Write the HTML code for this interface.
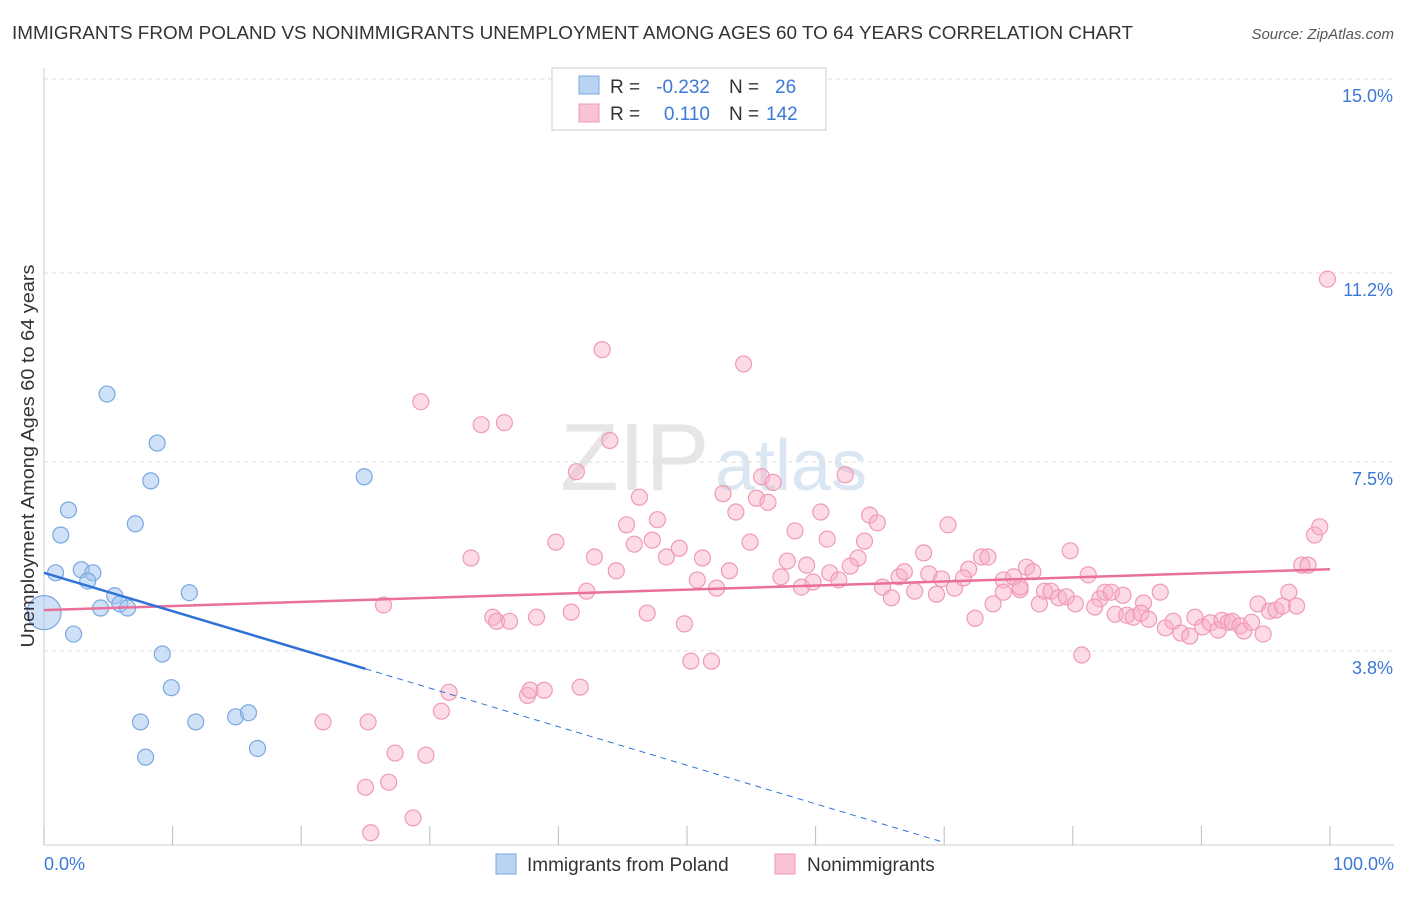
<!DOCTYPE html>
<html><head><meta charset="utf-8"><style>
body{margin:0;background:#fff;font-family:"Liberation Sans",sans-serif;}
svg text{font-family:"Liberation Sans",sans-serif;}
</style></head><body>
<svg id="c" width="1406" height="892">
<text x="12" y="39" font-size="18" fill="#333" textLength="1121" lengthAdjust="spacingAndGlyphs">IMMIGRANTS FROM POLAND VS NONIMMIGRANTS UNEMPLOYMENT AMONG AGES 60 TO 64 YEARS CORRELATION CHART</text>
<text x="1394" y="39" font-size="15" fill="#555" text-anchor="end" font-style="italic">Source: ZipAtlas.com</text>
<text x="560" y="490" font-size="96" fill="#e6e6e6" font-family="Liberation Serif">ZIP</text>
<text x="715" y="490" font-size="72" fill="#dbe6f3">atlas</text>
<g id="grid"></g><g id="axes"></g><g id="pink"></g><g id="blue"></g><g id="lines"></g>
<text transform="translate(34,456) rotate(-90)" font-size="18" fill="#333" text-anchor="middle" textLength="383" lengthAdjust="spacingAndGlyphs">Unemployment Among Ages 60 to 64 years</text>
<text x="44" y="870" font-size="18" fill="#3b78d8">0.0%</text>
<text x="1394" y="870" font-size="18" fill="#3b78d8" text-anchor="end">100.0%</text>
<g>
<rect x="552" y="68" width="274" height="62" fill="#fff" stroke="#ccc"/>
<rect x="579" y="76" width="20" height="18" fill="#b9d3f3" stroke="#7aa8e0"/>
<rect x="579" y="104" width="20" height="18" fill="#f9c3d3" stroke="#f09ab5"/>
<text x="610" y="93" font-size="19" fill="#333">R =</text>
<text x="710" y="93" font-size="19" fill="#3b78d8" text-anchor="end">-0.232</text>
<text x="729" y="93" font-size="19" fill="#333">N =</text>
<text x="775" y="93" font-size="19" fill="#3b78d8">26</text>
<text x="610" y="120" font-size="19" fill="#333">R =</text>
<text x="710" y="120" font-size="19" fill="#3b78d8" text-anchor="end">0.110</text>
<text x="729" y="120" font-size="19" fill="#333">N =</text>
<text x="766" y="120" font-size="19" fill="#3b78d8">142</text>
</g>
<g>
<rect x="496" y="854" width="20" height="20" fill="#b9d3f3" stroke="#7aa8e0"/>
<text x="527" y="871" font-size="19" fill="#333">Immigrants from Poland</text>
<rect x="775" y="854" width="20" height="20" fill="#f9c3d3" stroke="#f09ab5"/>
<text x="807" y="871" font-size="19" fill="#333">Nonimmigrants</text>
</g>
</svg>
<script>
const yTicks=[3.8,7.5,11.2,15.0];
const yTickLabels=["3.8%","7.5%","11.2%","15.0%"];
const xTicks=[0,10,20,30,40,50,60,70,80,90,100];
const blueX=[0,0.9,1.3,1.9,4.9,8.8,8.3,7.1,2.9,3.8,3.4,5.5,4.4,5.9,6.5,2.3,11.3,9.2,9.9,7.5,11.8,7.9,14.9,15.9,16.6,24.9];
const blueY=[4.55,5.33,6.07,6.56,8.83,7.87,7.13,6.29,5.39,5.33,5.17,4.88,4.64,4.72,4.64,4.13,4.94,3.74,3.08,2.41,2.41,1.72,2.51,2.59,1.89,7.21];
const pinkX=[43.4,54.4,99.8,29.3,34,35.8,44,41.4,55.8,62.3,56.7,52.8,55.4,56.3,46.3,64.2,53.8,60.4,47.7,45.3,70.3,64.8,39.8,42.8,33.2,45.9,47.3,49.4,48.4,51.2,54.9,58.4,60.9,63.8,63.3,57.8,59.3,68.4,72.9,73.4,71.9,79.8,44.5,50.8,52.3,53.3,57.3,58.9,59.8,61.1,61.8,62.7,65.2,65.9,66.5,66.9,67.7,68.8,69.8,69.4,70.8,71.5,74.6,75.4,75.9,76.4,76.9,77.8,78.3,78.9,79.5,81.2,82.1,82.5,83,83.9,85.5,86.8,75.9,74.6,73.8,72.4,77.4,80.2,81.7,83.3,84.2,84.7,85.3,85.9,87.2,87.8,88.4,89.1,89.5,90.1,90.7,91.3,91.6,92.1,92.4,93,93.3,93.9,94.4,94.8,95.3,95.8,96.3,96.8,97.4,97.8,98.3,98.8,99.2,80.7,42.2,41,46.9,49.8,50.3,51.9,34.9,35.2,36.2,38.3,26.4,31.5,30.9,37.6,37.8,38.9,41.7,21.7,25.2,27.3,29.7,25,26.8,28.7,25.4];
const pinkY=[9.7,9.42,11.08,8.68,8.23,8.27,7.92,7.31,7.21,7.25,7.1,6.88,6.79,6.71,6.81,6.46,6.52,6.52,6.37,6.27,6.27,6.31,5.93,5.64,5.62,5.89,5.97,5.81,5.64,5.62,5.93,6.15,5.99,5.95,5.62,5.56,5.48,5.72,5.64,5.64,5.4,5.76,5.37,5.19,5.03,5.37,5.25,5.05,5.15,5.33,5.19,5.46,5.05,4.84,5.25,5.35,4.97,5.31,5.21,4.91,5.03,5.23,5.19,5.25,5,5.44,5.35,4.97,4.97,4.84,4.86,5.29,4.82,4.95,4.95,4.89,4.74,4.95,5.05,4.95,4.72,4.44,4.72,4.72,4.66,4.52,4.5,4.46,4.54,4.42,4.25,4.38,4.15,4.09,4.46,4.27,4.35,4.21,4.4,4.36,4.38,4.29,4.19,4.36,4.72,4.13,4.58,4.6,4.68,4.95,4.68,5.48,5.48,6.07,6.23,3.72,4.97,4.56,4.54,4.33,3.6,3.6,4.46,4.38,4.38,4.46,4.7,2.99,2.62,2.93,3.03,3.03,3.09,2.41,2.41,1.8,1.76,1.13,1.23,0.53,0.24];
const pinkLine=[4.6,5.4], blueLine=[5.33,3.45,0.05];
const X=v=>44+v*12.86, Y=v=>845-v*51.07;
const NS="http://www.w3.org/2000/svg";
function mk(p,t,a){const e=document.createElementNS(NS,t);for(const k in a)e.setAttribute(k,a[k]);document.getElementById(p).appendChild(e);return e;}
yTicks.forEach((t,i)=>{
 const g=mk('grid','line',{x1:44,x2:1394,y1:Y(t),y2:Y(t),stroke:'#ddd','stroke-dasharray':'4,4'});
 
 
 const tx=mk('grid','text',{x:1393,y:Y(t)+23,'font-size':18,fill:'#3b78d8','text-anchor':'end'});
 tx.textContent=yTickLabels[i];
 
 
});
const ax=mk('axes','line',{x1:44,x2:44,y1:68,y2:845,stroke:'#ccc'});


const bx=mk('axes','line',{x1:44,x2:1394,y1:845,y2:845,stroke:'#ccc'});


xTicks.forEach(t=>{
 const l=mk('axes','line',{x1:X(t),x2:X(t),y1:826,y2:845,stroke:'#bbb'});
 
 
});
pinkX.forEach((x,i)=>{
 const c=mk('pink','circle',{cx:X(x),cy:Y(pinkY[i]),r:8,fill:'rgba(248,175,198,0.45)',stroke:'#f09ab5','stroke-width':1.2});
 
 
});
blueX.forEach((x,i)=>{
 const c=mk('blue','circle',{cx:X(x),cy:Y(blueY[i]),r:i==0?17:8,fill:'rgba(160,196,240,0.5)',stroke:'#7aa8e0','stroke-width':1.2});
 
 
});
const pl=mk('lines','line',{x1:X(0),y1:Y(pinkLine[0]),x2:X(100),y2:Y(pinkLine[1]),stroke:'#e8709a','stroke-width':2.5});


const b1=mk('lines','line',{x1:X(0),y1:Y(blueLine[0]),x2:X(25),y2:Y(blueLine[1]),stroke:'#2f72d6','stroke-width':2.5});


const b2=mk('lines','line',{x1:X(25),y1:Y(blueLine[1]),x2:X(70),y2:Y(blueLine[2]),stroke:'#2f72d6','stroke-width':1,'stroke-dasharray':'6,5'});


</script>
</body></html>
